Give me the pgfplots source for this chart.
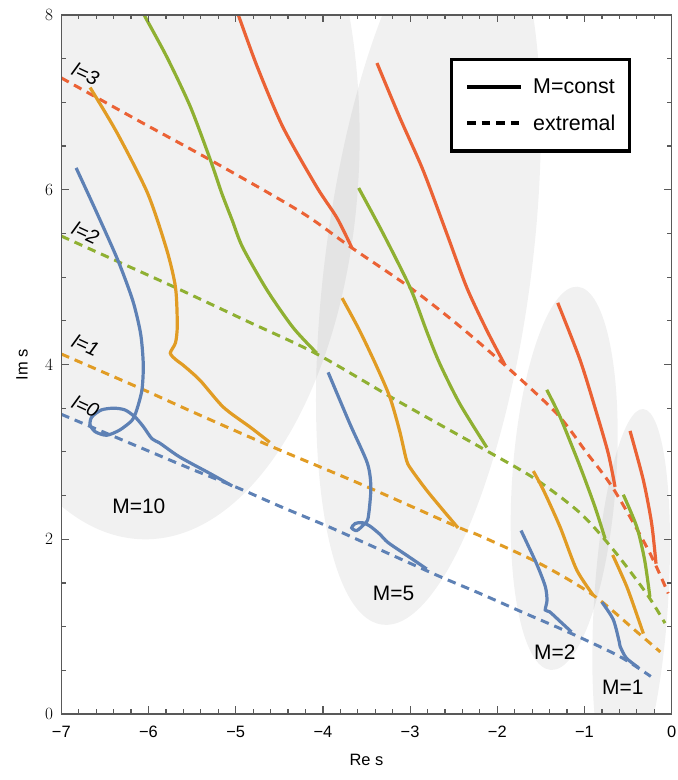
\documentclass[border=0pt]{standalone}
\usepackage{pgfplots}
\pgfplotsset{compat=1.18}
\usepackage{fontspec}
\setmainfont{Liberation Sans}
\definecolor{cB}{HTML}{5E81B5}
\definecolor{cO}{HTML}{E19C24}
\definecolor{cG}{HTML}{8FB032}
\definecolor{cR}{HTML}{EB6235}
\definecolor{framec}{gray}{0.35}
\newcommand\ticksize{\fontsize{16.5}{19}\selectfont}
\newcommand\legsize{\fontsize{21.5}{24}\selectfont}
\newcommand\msize{\fontsize{21}{24}\selectfont}
\newcommand\lsize{\fontsize{20}{23}\selectfont}
\begin{document}
\begin{tikzpicture}
\begin{axis}[
  scale only axis, width=610.4bp, height=699bp,
  axis on top,
  xmin=-7, xmax=0, ymin=0, ymax=8,
  xtick={-7,-6,-5,-4,-3,-2,-1,0},
  xticklabels={−7,−6,−5,−4,−3,−2,−1,0},
  ytick={0,2,4,6,8},
  minor xtick={-6.8,-6.6,-6.4,-6.2,-5.8,-5.6,-5.4,-5.2,-4.8,-4.6,-4.4,-4.2,-3.8,-3.6,-3.4,-3.2,-2.8,-2.6,-2.4,-2.2,-1.8,-1.6,-1.4,-1.2,-0.8,-0.6,-0.4,-0.2},
  minor ytick={0.5,1,1.5,2.5,3,3.5,4.5,5,5.5,6.5,7,7.5},
  xtick pos=both, ytick pos=both,
  tick align=inside, major tick length=7.5bp, minor tick length=4.5bp,
  axis line style={draw=framec, line width=1.2bp},
  major tick style={draw=framec, line width=1.2bp},
  minor tick style={draw=framec, line width=1.2bp},
  tick label style={font=\ticksize, text=black},
  xticklabel style={inner sep=0pt, yshift=-12bp},
  yticklabel style={inner sep=0pt, xshift=-8bp},
  xlabel={Re s}, ylabel={Im s},
  xlabel style={at={(axis description cs:0.5,-0.0658)}, anchor=center, inner sep=0pt, font=\ticksize},
  ylabel style={at={(axis description cs:-0.0644,0.5)}, anchor=center, inner sep=0pt, font=\ticksize},
  solidc/.style={line width=3.2bp, smooth, tension=0.45},
  dashc/.style={line width=3bp, dash pattern=on 8.5bp off 6bp, smooth, tension=0.5},
  legend style={at={(axis cs:-0.467,7.506)}, anchor=north east, draw=black, line width=3.2bp,
    fill=white, inner xsep=14bp, inner ysep=19bp, row sep=20bp, column sep=10bp,
    font=\legsize, nodes={inner sep=0pt}},
  legend cell align=left,
  legend image code/.code={\draw[#1, line width=4bp] (0bp,0bp) -- (54bp,0bp);},
]
% background ellipses
\fill[black, fill opacity=0.055, rotate around={-1:(axis cs:-5.98,6.5)}] (axis cs:-5.98,6.5) ellipse [x radius=209.3bp, y radius=393.3bp];
\fill[black, fill opacity=0.055, rotate around={-7.3:(axis cs:-2.79,5.15)}] (axis cs:-2.79,5.15) ellipse [x radius=103.3bp, y radius=363.6bp];
\fill[black, fill opacity=0.055, rotate around={-4:(axis cs:-1.233,2.697)}] (axis cs:-1.233,2.697) ellipse [x radius=51.9bp, y radius=192.1bp];
\fill[black, fill opacity=0.055, rotate around={-3.6:(axis cs:-0.465,1.3)}] (axis cs:-0.465,1.3) ellipse [x radius=37bp, y radius=191.8bp];

\addlegendimage{black}
\addlegendentry{M=const}
\addlegendimage{black, dash pattern=on 8.3bp off 6.2bp}
\addlegendentry{extremal}

% extremal (dashed)
\addplot[cB, dashc] coordinates {(-7,3.43) (-6.5,3.22) (-6,3.01) (-5.5,2.80) (-4.98,2.59) (-4.5,2.38) (-3.95,2.15) (-3.5,1.95) (-2.72,1.6) (-2.2,1.38) (-1.7,1.16) (-1.17,0.93) (-0.6,0.66) (-0.24,0.43)};
\addplot[cO, dashc] coordinates {(-7,4.12) (-6.1,3.73) (-5.5,3.46) (-4.61,3.07) (-3.54,2.62) (-2.43,2.13) (-2.2,2.04) (-1.51,1.72) (-0.9,1.36) (-0.4,0.94) (-0.13,0.71)};
\addplot[cG, dashc] coordinates {(-7,5.47) (-6.4,5.2) (-5.69,4.88) (-4.9,4.51) (-4.07,4.12) (-3.12,3.57) (-2.1,3.0) (-1.55,2.68) (-1.05,2.30) (-0.67,1.88) (-0.29,1.38) (-0.077,1.04)};
\addplot[cR, dashc] coordinates {(-7,7.28) (-6.06,6.76) (-5.29,6.34) (-4.26,5.75) (-3.69,5.35) (-3.0,4.88) (-2.47,4.47) (-1.91,3.99) (-1.32,3.44) (-0.975,2.99) (-0.67,2.58) (-0.27,1.88) (-0.04,1.38)};

% M = 10
\addplot[cB, solidc] coordinates {(-6.83,6.25) (-6.59,5.73) (-6.35,5.19) (-6.18,4.73) (-6.09,4.35) (-6.06,4.0) (-6.075,3.71) (-6.135,3.48) (-6.19,3.36) (-6.33,3.25) (-6.48,3.19) (-6.61,3.23) (-6.67,3.31) (-6.65,3.40) (-6.54,3.48) (-6.40,3.50) (-6.27,3.48) (-6.155,3.40) (-6.06,3.29) (-5.96,3.15) (-5.87,3.10) (-5.64,2.94) (-5.29,2.75) (-5.04,2.61)};
\addplot[cO, solidc] coordinates {(-6.67,7.17) (-6.36,6.65) (-6.01,5.96) (-5.79,5.31) (-5.69,4.88) (-5.67,4.45) (-5.69,4.25) (-5.75,4.13) (-5.68,4.05) (-5.6,3.99) (-5.41,3.82) (-5.14,3.51) (-4.83,3.28) (-4.61,3.11)};
\addplot[cG, solidc] coordinates {(-6.1,8.1) (-6.05,8) (-5.79,7.52) (-5.52,6.95) (-5.29,6.34) (-5.16,5.96) (-5.04,5.65) (-4.92,5.34) (-4.64,4.85) (-4.34,4.42) (-4.07,4.13)};
\addplot[cR, solidc] coordinates {(-5.0,8.08) (-4.97,8) (-4.75,7.4) (-4.46,6.72) (-4.07,6.03) (-3.84,5.68) (-3.67,5.34)};

% M = 5
\addplot[cB, solidc] coordinates {(-3.94,3.91) (-3.69,3.32) (-3.49,2.87) (-3.45,2.59) (-3.48,2.25) (-3.52,2.18) (-3.61,2.1) (-3.67,2.13) (-3.63,2.18) (-3.55,2.19) (-3.46,2.15) (-3.35,2.06) (-3.25,1.96) (-3.0,1.79) (-2.81,1.66)};
\addplot[cO, solidc] coordinates {(-3.78,4.76) (-3.58,4.39) (-3.38,3.97) (-3.23,3.62) (-3.12,3.24) (-3.04,2.9) (-2.98,2.79) (-2.81,2.56) (-2.62,2.33) (-2.45,2.13)};
\addplot[cG, solidc] coordinates {(-3.59,6.02) (-3.31,5.5) (-3.0,4.88) (-2.81,4.38) (-2.66,4.01) (-2.43,3.55) (-2.12,3.05)};
\addplot[cR, solidc] coordinates {(-3.38,7.45) (-3.12,6.83) (-2.85,6.22) (-2.58,5.5) (-2.35,4.88) (-2.12,4.39) (-1.91,3.99)};

% M = 2
\addplot[cB, solidc] coordinates {(-1.728,2.10) (-1.55,1.72) (-1.45,1.46) (-1.43,1.30) (-1.45,1.19) (-1.40,1.17) (-1.28,1.06) (-1.15,0.94)};
\addplot[cO, solidc] coordinates {(-1.587,2.78) (-1.47,2.56) (-1.28,2.14) (-1.09,1.65) (-0.9,1.36)};
\addplot[cG, solidc] coordinates {(-1.433,3.71) (-1.28,3.40) (-1.05,2.83) (-0.88,2.37) (-0.765,2.01)};
\addplot[cR, solidc] coordinates {(-1.307,4.706) (-1.05,4.05) (-0.86,3.44) (-0.727,2.98) (-0.65,2.6)};

% M = 1
\addplot[cB, solidc] coordinates {(-0.80,1.28) (-0.67,1.08) (-0.60,0.82) (-0.59,0.77) (-0.52,0.64) (-0.38,0.53)};
\addplot[cO, solidc] coordinates {(-0.677,1.82) (-0.516,1.46) (-0.38,1.08) (-0.325,0.92)};
\addplot[cG, solidc] coordinates {(-0.555,2.51) (-0.40,2.14) (-0.31,1.76) (-0.25,1.34)};
\addplot[cR, solidc] coordinates {(-0.478,3.24) (-0.326,2.68) (-0.23,2.18) (-0.18,1.72)};

% labels
\node[font=\msize] at (axis cs:-6.11,2.38) {M=10};
\node[font=\msize] at (axis cs:-3.19,1.38) {M=5};
\node[font=\msize] at (axis cs:-1.34,0.71) {M=2};
\node[font=\msize] at (axis cs:-0.56,0.30) {M=1};
\node[font=\lsize\itshape, rotate=-25, inner sep=0pt] at (axis cs:-6.72,7.33) {l=3};
\node[font=\lsize\itshape, rotate=-25, inner sep=0pt] at (axis cs:-6.72,5.51) {l=2};
\node[font=\lsize\itshape, rotate=-25, inner sep=0pt] at (axis cs:-6.72,4.22) {l=1};
\node[font=\lsize\itshape, rotate=-25, inner sep=0pt] at (axis cs:-6.72,3.52) {l=0};
\end{axis}
\pgfresetboundingbox
\path ([shift={(-61.3bp,-66bp)}]current axis.south west) rectangle ([shift={(6.3bp,15bp)}]current axis.north east);
\end{tikzpicture}
\end{document}
